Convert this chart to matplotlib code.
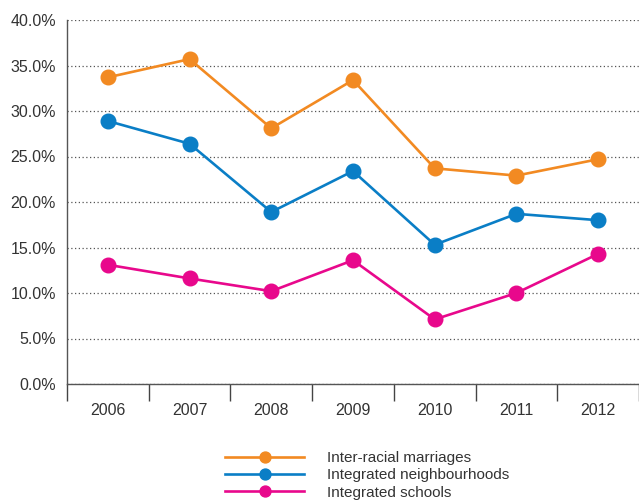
import numpy as np
import matplotlib
matplotlib.use("Agg")
from matplotlib import pyplot as plt
from matplotlib.ticker import FixedLocator

plt.rcParams['font.family'] = ['Liberation Sans', 'DejaVu Sans']

years = ['2006', '2007', '2008', '2009', '2010', '2011', '2012']
marriages = [33.7, 35.7, 28.1, 33.4, 23.7, 22.9, 24.7]
neighbourhoods = [28.9, 26.4, 18.9, 23.4, 15.3, 18.7, 18.0]
schools = [13.1, 11.6, 10.2, 13.6, 7.1, 10.0, 14.3]
labels = ['Inter-racial marriages', 'Integrated neighbourhoods', 'Integrated schools']
colors = ['#F28A22', '#0A7EC6', '#E8088C']

fig = plt.figure(figsize=(6.39, 5.01), dpi=100)
ax = fig.add_axes([67/639, 1 - 384/501, 572/639, 364/501])

x = np.arange(len(years))
for vals, lab, col in zip([marriages, neighbourhoods, schools], labels, colors):
    ax.plot(x, vals, color=col, lw=1.9, marker='o', ms=10.5, label=lab, clip_on=False, zorder=3)

ax.set_xlim(-0.5, len(years) - 0.5)
ax.set_ylim(0, 40)
ax.set_yticks(np.arange(0, 41, 5))
ax.set_yticklabels(['%.1f%%' % v for v in np.arange(0, 41, 5)])
ax.set_xticks(x)
ax.set_xticklabels(years)
ax.xaxis.set_minor_locator(FixedLocator(np.arange(-0.5, len(years), 1.0)))

ax.tick_params(axis='y', length=0, pad=8, labelsize=11.5, labelcolor='#333333')
ax.tick_params(axis='x', which='major', length=0, pad=14, labelsize=11.5, labelcolor='#333333')
ax.tick_params(axis='x', which='minor', length=12, width=1, color='#444444', direction='out')

ax.grid(axis='y', linestyle=(0, (1, 2)), color='#555555', lw=0.9)
ax.spines['top'].set_visible(False)
ax.spines['right'].set_visible(False)
for s in ['left', 'bottom']:
    ax.spines[s].set_color('#555555')
    ax.spines[s].set_linewidth(1)

leg = ax.legend(loc='upper left', bbox_to_anchor=(225/639, 1 - 451/501), bbox_transform=fig.transFigure,
                frameon=False, handlelength=5.2, handletextpad=1.45, labelspacing=0.22,
                markerscale=0.75, fontsize=11, borderpad=0, borderaxespad=0)
for t in leg.get_texts():
    t.set_color('#333333')

fig.savefig('out.png', dpi=100)
